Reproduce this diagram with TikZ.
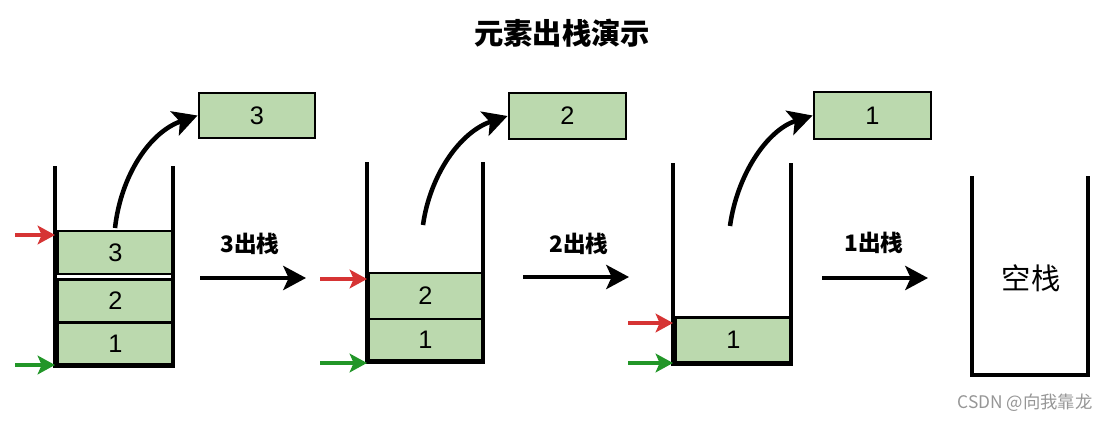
\documentclass[tikz,border=0pt]{standalone}
\usepackage{fontspec}
\setmainfont{Liberation Sans}
\newfontfamily\cjk{Noto Sans CJK SC}
\usetikzlibrary{arrows.meta}
\definecolor{boxgreen}{RGB}{187,217,174}
\definecolor{ptrred}{RGB}{214,52,52}
\definecolor{ptrgreen}{RGB}{34,150,40}
\definecolor{wmgray}{RGB}{150,150,150}
\tikzset{
  elem/.style={draw=black, line width=2.2pt, fill=boxgreen, inner sep=0pt, font=\fontsize{19}{19}\selectfont},
  wall/.style={line width=3.2pt, line join=miter},
  popar/.style={line width=3.4pt, -{Stealth[length=18pt,width=19pt,inset=4pt]}},
  stepar/.style={line width=3.4pt, -{Stealth[length=17pt,width=18pt,inset=4pt]}},
  topptr/.style={line width=3pt, ptrred, -{Stealth[length=13pt,width=14pt,inset=3pt]}},
  botptr/.style={line width=3pt, ptrgreen, -{Stealth[length=13pt,width=14pt,inset=3pt]}},
  steplabel/.style={font=\cjk\bfseries\fontsize{17}{17}\selectfont},
}
\begin{document}
\begin{tikzpicture}[x=0.75pt,y=-0.75pt]
\useasboundingbox (0,0) rectangle (1108,422);
% title
\node[font=\cjk\bfseries\fontsize{22}{22}\selectfont] (title) at (562,33) {元素出栈演示};

% ---------- stack 1 ----------
\node[elem, minimum width=86.25pt, minimum height=32.25pt] (a3) at (115.5,252.5) {3};
\node[elem, minimum width=86.25pt, minimum height=32.25pt] (a2) at (115.5,301) {2};
\node[elem, minimum width=86.25pt, minimum height=30.75pt] (a1) at (115.5,343.5) {1};
\coordinate (a-tl) at (55,166);
\coordinate (a-bl) at (55,366);
\coordinate (a-br) at (173,366);
\coordinate (a-tr) at (173,166);
\draw[wall] (a-tl) -- (a-bl) -- (a-br) -- (a-tr);
\node[elem, minimum width=87pt, minimum height=33.75pt] (p3) at (257,115.5) {3};
\coordinate (a-start) at (115,228);
\draw[popar] (a-start) .. controls (121,175) and (150,132) .. (p3.west);
\coordinate (a-red) at (15,235);
\coordinate (a-green) at (15,365);
\draw[topptr] (a-red) -- (a-red -| a-tl);
\draw[botptr] (a-green) -- (a-green -| a-bl);
\coordinate (h1s) at (200,278);
\coordinate (h1e) at (306,278);
\draw[stepar] (h1s) -- (h1e);
\node[steplabel] (l1) at (250,244) {3出栈};

% ---------- stack 2 ----------
\node[elem, minimum width=85.5pt, minimum height=34.5pt] (b2) at (425.5,296) {2};
\node[elem, minimum width=85.5pt, minimum height=30.75pt] (b1) at (425.5,339.5) {1};
\coordinate (b-tl) at (367,162);
\coordinate (b-bl) at (367,362);
\coordinate (b-br) at (483,362);
\coordinate (b-tr) at (483,162);
\draw[wall] (b-tl) -- (b-bl) -- (b-br) -- (b-tr);
\node[elem, minimum width=87.75pt, minimum height=34.5pt] (p2) at (567.5,116) {2};
\coordinate (b-start) at (423,225);
\draw[popar] (b-start) .. controls (430,175) and (460,132) .. (p2.west);
\coordinate (b-red) at (320,279);
\coordinate (b-green) at (320,363);
\draw[topptr] (b-red) -- (b-red -| b-tl);
\draw[botptr] (b-green) -- (b-green -| b-bl);
\coordinate (h2s) at (523,277);
\coordinate (h2e) at (629,277);
\draw[stepar] (h2s) -- (h2e);
\node[steplabel] (l2) at (579,244) {2出栈};

% ---------- stack 3 ----------
\node[elem, minimum width=86.25pt, minimum height=33.75pt] (c1) at (733.5,340) {1};
\coordinate (c-tl) at (673,163);
\coordinate (c-bl) at (673,364);
\coordinate (c-br) at (791,364);
\coordinate (c-tr) at (791,163);
\draw[wall] (c-tl) -- (c-bl) -- (c-br) -- (c-tr);
\node[elem, minimum width=87.75pt, minimum height=35.25pt] (p1) at (872.5,115.5) {1};
\coordinate (c-start) at (730,226);
\draw[popar] (c-start) .. controls (737,175) and (767,130) .. (p1.west);
\coordinate (c-red) at (628,323);
\coordinate (c-green) at (628,363);
\draw[topptr] (c-red) -- (c-red -| c-tl);
\draw[botptr] (c-green) -- (c-green -| c-bl);
\coordinate (h3s) at (822,278);
\coordinate (h3e) at (928,278);
\draw[stepar] (h3s) -- (h3e);
\node[steplabel] (l3) at (874,243) {1出栈};

% ---------- empty stack ----------
\coordinate (d-tl) at (972,176);
\coordinate (d-bl) at (972,375);
\coordinate (d-br) at (1088,375);
\coordinate (d-tr) at (1088,176);
\draw[wall] (d-tl) -- (d-bl) -- (d-br) -- (d-tr);
\node[font=\cjk\fontsize{22}{22}\selectfont] (empty) at (1031,278) {空栈};

% watermark
\node[font=\cjk\fontsize{13}{13}\selectfont, text=wmgray] (wm) at (1025,403) {CSDN @向我靠龙};
\end{tikzpicture}
\end{document}
